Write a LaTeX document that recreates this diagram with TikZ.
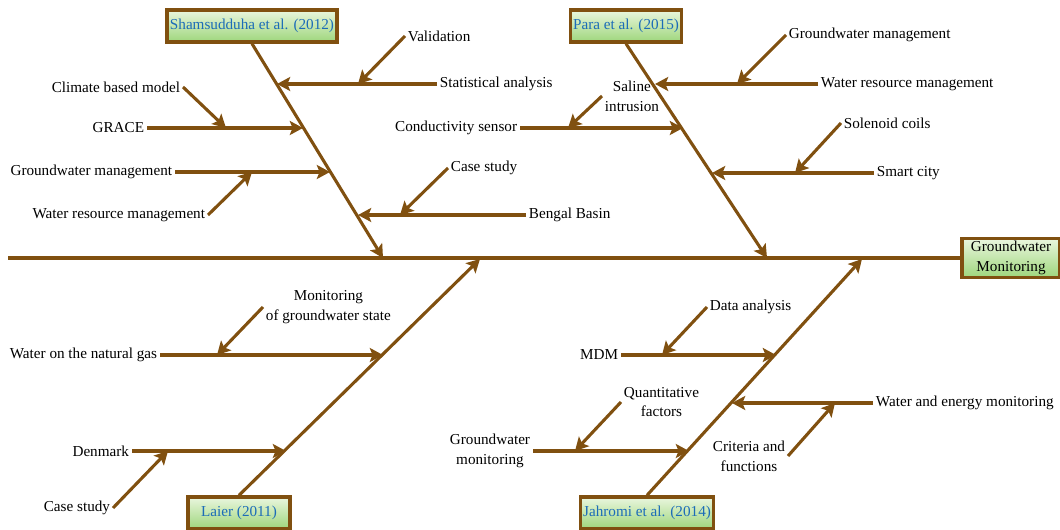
\documentclass[tikz,border=0pt]{standalone}
\usepackage{fontspec}
\setmainfont{Liberation Serif}
\usepackage{tikz}
\usetikzlibrary{arrows.meta}

\definecolor{bone}{RGB}{128,80,16}
\definecolor{boxtop}{RGB}{234,246,222}
\definecolor{boxbot}{RGB}{158,214,124}
\definecolor{cite}{RGB}{28,108,184}

\begin{document}
\begin{tikzpicture}[->,>={Stealth[length=3.3mm,width=3.5mm,inset=0.7mm]},
                    x=0.025cm,y=-0.025cm,line width=2.2pt,
                    color=bone,font=\fontsize{10.8}{14}\selectfont]
  \tikzstyle{cause}=[inner sep=1pt,text=black,align=center]
  \tikzstyle{ref}=[draw=bone,line width=2.4pt,top color=boxtop,bottom color=boxbot,
                   text=cite,inner xsep=2pt,minimum height=0.8cm]
  \tikzstyle{effect}=[ref,text=black,align=center,minimum width=2.45cm,
                      minimum height=0.97cm,inner ysep=1pt]
  \useasboundingbox (0,0) rectangle (1060,530);

  % head and references
  \node[effect] (head) at (1011,258) {Groundwater\\Monitoring};
  \node[ref]    (sham) at (252,26)   {Shamsudduha et al. (2012)};
  \node[ref]    (para) at (626,26)   {Para et al. (2015)};
  \node[ref,minimum width=2.55cm] (laier) at (239,513) {Laier (2011)};
  \node[ref]    (jahr) at (647,513)  {Jahromi et al. (2014)};

  % spine and bones
  \coordinate (tail) at (8,258);
  \coordinate (h1) at (383,258);
  \coordinate (h2) at (767,258);
  \coordinate (h3) at (480,259);
  \coordinate (h4) at (862,259);
  \draw[-] (tail) -- (head);
  \path (sham.south)  edge (h1)
        (para.south)  edge (h2)
        (laier.north) edge (h3)
        (jahr.north)  edge (h4);

  % points on the bones
  \coordinate (a1) at (277,84);
  \coordinate (a2) at (303,128);
  \coordinate (a3) at (330,172);
  \coordinate (a4) at (358,215);
  \coordinate (b1) at (655,84);
  \coordinate (b2) at (683,128);
  \coordinate (b3) at (712,173);
  \coordinate (c1) at (383,355);
  \coordinate (c2) at (286,451);
  \coordinate (d1) at (776,355);
  \coordinate (d2) at (732,403);
  \coordinate (d3) at (689,451);

  % causes
  \node[cause,anchor=west] (stat)   at (437,84)  {Statistical analysis};
  \node[cause,anchor=west] (valid)  at (405,36)  {Validation};
  \node[cause,anchor=east] (grace)  at (147,128) {GRACE};
  \node[cause,anchor=east] (climate) at (183,87) {Climate based model};
  \node[cause,anchor=east] (gwman)  at (175,172) {Groundwater management};
  \node[cause,anchor=east] (wrman)  at (208,215) {Water resource management};
  \node[cause,anchor=west] (bengal) at (526,215) {Bengal Basin};
  \node[cause,anchor=west] (case)   at (448,168) {Case study};

  \node[cause,anchor=west] (wrmanb) at (818,84)  {Water resource management};
  \node[cause,anchor=west] (gwmanb) at (786,35)  {Groundwater management};
  \node[cause,anchor=east] (cond)   at (520,128) {Conductivity sensor};
  \node[cause,anchor=west] (saline) at (602,96)  {Saline\\intrusion};
  \node[cause,anchor=west] (smart)  at (874,173) {Smart city};
  \node[cause,anchor=west] (coils)  at (841,123) {Solenoid coils};

  \node[cause,anchor=east] (gas)    at (160,355) {Water on the natural gas};
  \node[cause,anchor=west] (state)  at (263,307) {Monitoring\\of groundwater state};
  \node[cause,anchor=east] (denmark) at (132,451) {Denmark};
  \node[cause,anchor=east] (caseb)  at (113,508) {Case study};

  \node[cause,anchor=east] (mdm)    at (621,355) {MDM};
  \node[cause,anchor=west] (data)   at (707,307) {Data analysis};
  \node[cause,anchor=west] (energy) at (873,403) {Water and energy monitoring};
  \node[cause,anchor=east] (crit)   at (788,456) {Criteria and\\functions};
  \node[cause,anchor=east] (gwmon)  at (533,451) {Groundwater\\monitoring};
  \node[cause,anchor=west] (quant)  at (621,402) {Quantitative\\factors};

  % points on the causes
  \coordinate (valid-t)   at (358,84);
  \coordinate (climate-t) at (226,128);
  \coordinate (wrman-t)   at (252,172);
  \coordinate (case-t)    at (400,215);
  \coordinate (gwmanb-t)  at (737,84);
  \coordinate (saline-t)  at (568,128);
  \coordinate (coils-t)   at (795,173);
  \coordinate (state-t)   at (217,355);
  \coordinate (caseb-t)   at (168,451);
  \coordinate (data-t)    at (662,355);
  \coordinate (crit-t)    at (835,403);
  \coordinate (quant-t)   at (575,451);

  \path (stat)    edge (a1)
        (valid.west)   edge (valid-t)
        (grace)   edge (a2)
        (climate.east) edge (climate-t)
        (gwman)   edge (a3)
        (wrman.east)   edge (wrman-t)
        (bengal)  edge (a4)
        (case.west)    edge (case-t);
  \path (wrmanb)  edge (b1)
        (gwmanb.west)  edge (gwmanb-t)
        (cond)    edge (b2)
        (saline.west)  edge (saline-t)
        (smart)   edge (b3)
        (coils.west)   edge (coils-t);
  \path (gas)     edge (c1)
        (state.west)   edge (state-t)
        (denmark) edge (c2)
        (caseb.east)   edge (caseb-t);
  \path (mdm)     edge (d1)
        (data.west)    edge (data-t)
        (energy)  edge (d2)
        (crit.east)    edge (crit-t)
        (gwmon)   edge (d3)
        (quant.west)   edge (quant-t);
\end{tikzpicture}
\end{document}
